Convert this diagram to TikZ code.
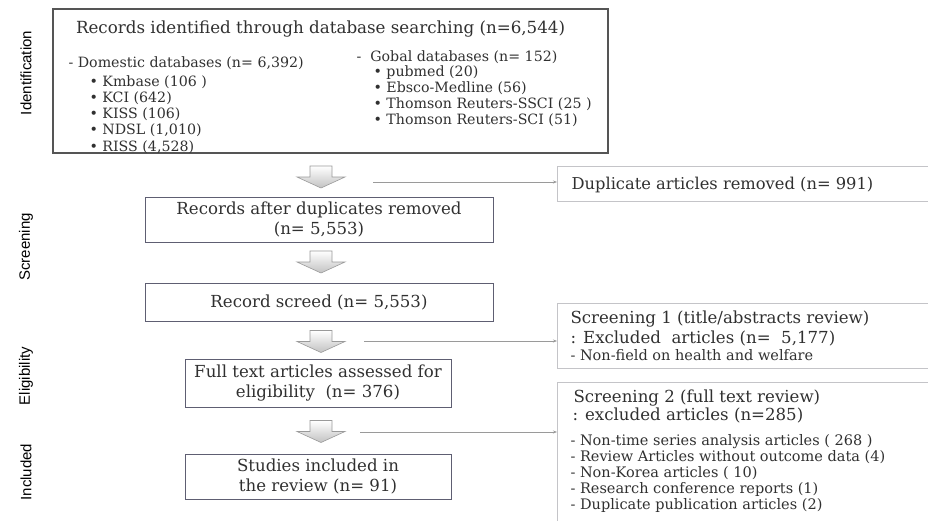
\documentclass[tikz,border=0pt]{standalone}
\usepackage{fontspec}
\setmainfont{DejaVu Serif}
\newfontfamily\stagefont{Liberation Sans}
\usetikzlibrary{arrows.meta}
\definecolor{boxline}{HTML}{5E5E72}
\definecolor{topline}{HTML}{555555}
\definecolor{sideline}{HTML}{C4C4C8}
\definecolor{inktext}{HTML}{303030}
\definecolor{connline}{HTML}{9A9A9A}
\begin{document}
\begin{tikzpicture}[x=1pt,y=-1pt,
  every node/.style={text=inktext},
  bigtxt/.style={font=\fontsize{16.6}{19.5}\selectfont},
  midtxt/.style={font=\fontsize{14.2}{16}\selectfont},
  smalltxt/.style={font=\fontsize{14.5}{16}\selectfont},
  procbox/.style={draw=boxline,line width=0.9pt,inner sep=2pt,align=center,bigtxt},
  sidebox/.style={draw=sideline,line width=1.4pt,anchor=north west,minimum width=420pt,inner sep=0pt},
  stage/.style={font=\stagefont\fontsize{15}{15}\selectfont,rotate=90,text=black},
  conn/.style={-{Stealth[length=4pt,width=3pt]},draw=connline,line width=0.7pt},
  pics/blockdown/.style={code={
    \shade[top color=white,bottom color=black!24,draw=connline,line width=0.6pt]
      (-11,-11) -- (11,-11) -- (11,0) -- (24,0) -- (0,11) -- (-24,0) -- (-11,0) -- cycle;}}]
\clip (0,0) rectangle (928,520);

% stage labels
\node (lid) at (26,73) [stage] {Identification};
\node (lscr) at (26,247) [stage] {Screening};
\node (lelig) at (26,376) [stage] {Eligibility};
\node (linc) at (26,472) [stage] {Included};

% identification box
\node (ident) at (330.5,81) [draw=topline,line width=1.1pt,minimum width=555pt,minimum height=144pt] {};
\node (idtitle) at (72.5,33) [anchor=base west,font=\fontsize{16.7}{20}\selectfont] {Records identified through database searching (n=6,544)};
\node (dom) at (65,67) [anchor=base west,midtxt] {- Domestic databases (n= 6,392)};
\foreach \t [count=\i] in {Kmbase (106 ),KCI (642),KISS (106),{NDSL (1,010)},{RISS (4,528)}}
  \node (dom\i) at (86,86+16.3*\i-16.3) [anchor=base west,midtxt] {• \t};
\node (glob) at (353,61) [anchor=base west,midtxt] {-\ \ Gobal databases (n= 152)};
\foreach \t [count=\i] in {pubmed (20),Ebsco-Medline (56),{Thomson Reuters-SSCI (25 )},{Thomson Reuters-SCI (51)}}
  \node (glob\i) at (370,76+16.3*\i-16.3) [anchor=base west,midtxt] {• \t};

% main flow
\node (after) at (319,219.5) [procbox,minimum width=348pt,minimum height=45pt] {Records after duplicates removed\\(n= 5,553)};
\node (screed) at (319,302) [procbox,minimum width=348pt,minimum height=38pt] {Record screed (n= 5,553)};
\node (full) at (318,383) [procbox,minimum width=266pt,minimum height=48pt] {Full text articles assessed for\\eligibility\ \ (n= 376)};
\node (incl) at (318,476.5) [procbox,minimum width=266pt,minimum height=45pt] {Studies included in\\the review (n= 91)};

\pic (arr1) at (321,177) {blockdown};
\pic (arr2) at (321,262) {blockdown};
\pic (arr3) at (321,341.5) {blockdown};
\pic (arr4) at (321,431.5) {blockdown};

% exclusion boxes
\node (dup) at (557,166) [sidebox,minimum height=35pt] {};
\node (duptxt) at (568,189) [anchor=base west,font=\fontsize{16.3}{19}\selectfont] {Duplicate articles removed (n= 991)};

\node (scr1) at (557,303) [sidebox,minimum height=65pt] {};
\node (scr1a) at (567,323) [anchor=base west,bigtxt] {Screening 1 (title/abstracts review)};
\node (scr1b) at (567,343) [anchor=base west,bigtxt] {: Excluded\ \ articles (n=\ \ 5,177)};
\node (scr1c) at (567,360) [anchor=base west,smalltxt] {- Non-field on health and welfare};

\node (scr2) at (557,382) [sidebox,minimum height=160pt] {};
\node (scr2a) at (570,402) [anchor=base west,bigtxt] {Screening 2 (full text review)};
\node (scr2b) at (569,420) [anchor=base west,bigtxt] {: excluded articles (n=285)};
\foreach \t [count=\i] in {{- Non-time series analysis articles ( 268 )},{- Review Articles without outcome data (4)},{- Non-Korea articles ( 10)},{- Research conference reports (1)},{- Duplicate publication articles (2)}}
  \node (why\i) at (567,445+16*\i-16) [anchor=base west,smalltxt] {\t};

% connectors
\coordinate (c1) at (373,182);
\coordinate (c3) at (364,341);
\coordinate (c4) at (360,432);
\draw[conn] (c1) -- (c1 -| dup.west);
\draw[conn] (c3) -- (c3 -| scr1.west);
\draw[conn] (c4) -- (c4 -| scr2.west);
\end{tikzpicture}
\end{document}
